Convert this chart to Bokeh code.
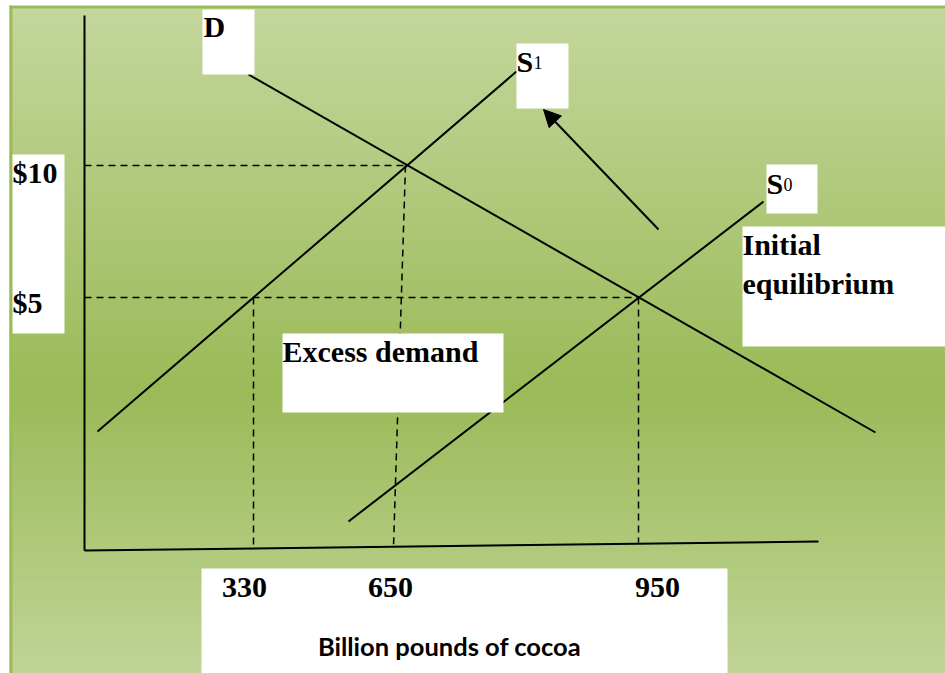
import numpy as np
from bokeh.plotting import figure
from bokeh.models import Range1d, Arrow, NormalHead
from bokeh.core.properties import value
from bokeh.embed import file_html
from bokeh.resources import INLINE

# ---------------- diagram content (drawing units, y grows downward) ----------------
price_labels = ["$10", "$5"]
price_rows = [165, 297]            # rows of the $10 and $5 price levels
quantity_labels = ["330", "650", "950"]
quantity_label_cols = [244, 390, 657]

# curves (end points in drawing units)
demand_x, demand_y = [248, 875], [74, 432]
supply1_x, supply1_y = [97, 516], [431, 71]
supply0_x, supply0_y = [348, 763], [521, 201]

# axes
yaxis_x, yaxis_y = [84, 84], [15, 550]
xaxis_x, xaxis_y = [84, 818], [550, 541]

# guide (dashed) lines
guide_xs = [[84, 405], [405, 393], [84, 638], [253, 253], [638, 638]]
guide_ys = [[165, 165], [165, 546], [297, 297], [297, 549], [297, 542]]

# shift arrow (S0 -> S1)
shift_start = (658, 229)
shift_end = (543, 109)

# label boxes: left, right, top, bottom
box_left = [202, 516, 766, 742, 282, 12, 201]
box_right = [254, 568, 817, 950, 503, 64, 727]
box_top = [9, 43, 164, 226, 333, 154, 568]
box_bottom = [74, 108, 213, 346, 412, 333, 680]

# ---------------- figure ----------------
W, H = 945, 673
p = figure(width=W, height=H, output_backend="svg", toolbar_location=None,
           x_range=Range1d(0, W), y_range=Range1d(H, 0),
           min_border=0)
p.axis.visible = False
p.grid.visible = False
p.outline_line_color = None
p.background_fill_color = "white"
p.border_fill_color = "white"

# gradient background (light - dark - light)
light = np.array([196, 215, 157])
dark = np.array([155, 187, 89])
edges = np.arange(6, H + 4, 2)
cols = []
for y in edges[:-1]:
    if y < 390:
        t = (y - 6) / (390 - 6)
    else:
        t = 1 - (y - 390) / (700 - 390)
    t = min(max(t, 0), 1)
    c = (light + (dark - light) * t).astype(int)
    cols.append("#%02x%02x%02x" % tuple(c))
p.quad(left=9, right=W + 2, top=edges[:-1], bottom=edges[1:] + 0.5,
       fill_color=cols, line_color=None)
# frame edge
p.quad(left=9, right=12, top=5, bottom=H + 2, fill_color="#9bbb59", line_color=None)
p.quad(left=9, right=W + 2, top=5, bottom=8, fill_color="#9bbb59", line_color=None)

# axes
p.line(yaxis_x, yaxis_y, line_color="black", line_width=2)
p.line(xaxis_x, xaxis_y, line_color="black", line_width=2)

# dashed guides
p.multi_line(guide_xs, guide_ys, line_color="black", line_width=1.5, line_dash="7 5")

# curves
for xs, ys in [(demand_x, demand_y), (supply1_x, supply1_y), (supply0_x, supply0_y)]:
    p.line(xs, ys, line_color="black", line_width=2)

# arrow
p.add_layout(Arrow(end=NormalHead(size=17, fill_color="black", line_color="black"),
                   x_start=shift_start[0], y_start=shift_start[1],
                   x_end=shift_end[0], y_end=shift_end[1],
                   line_color="black", line_width=2))

# white label boxes
p.quad(left=box_left, right=box_right, top=box_top, bottom=box_bottom,
       fill_color="white", line_color=None)

serif = value("Liberation Serif")
big = "30px"
DY = -11  # baseline correction

def label(x, y, t, size=big, style="bold", align="left", font=serif):
    p.text(x=[x], y=[y + DY], text=[t], text_font=font, text_font_size=size,
           text_font_style=style, text_align=align, text_baseline="alphabetic",
           text_color="black")

label(203, 37, "D")
label(516, 72, "S")
label(533, 73, "1", size="18px", style="normal")
label(766, 194, "S")
label(783, 195, "0", size="18px", style="normal")
label(742, 255, "Initial")
label(742, 294, "equilibrium")
label(282, 362, "Excess demand")
label(12, 183, price_labels[0])
label(12, 313, price_labels[1])
for t, cx in zip(quantity_labels, quantity_label_cols):
    label(cx, 598, t, align="center")
label(449, 656, "Billion pounds of cocoa", size="25.5px", align="center", font=value("Lato"))

open("out.html", "w").write(file_html(p, INLINE))
